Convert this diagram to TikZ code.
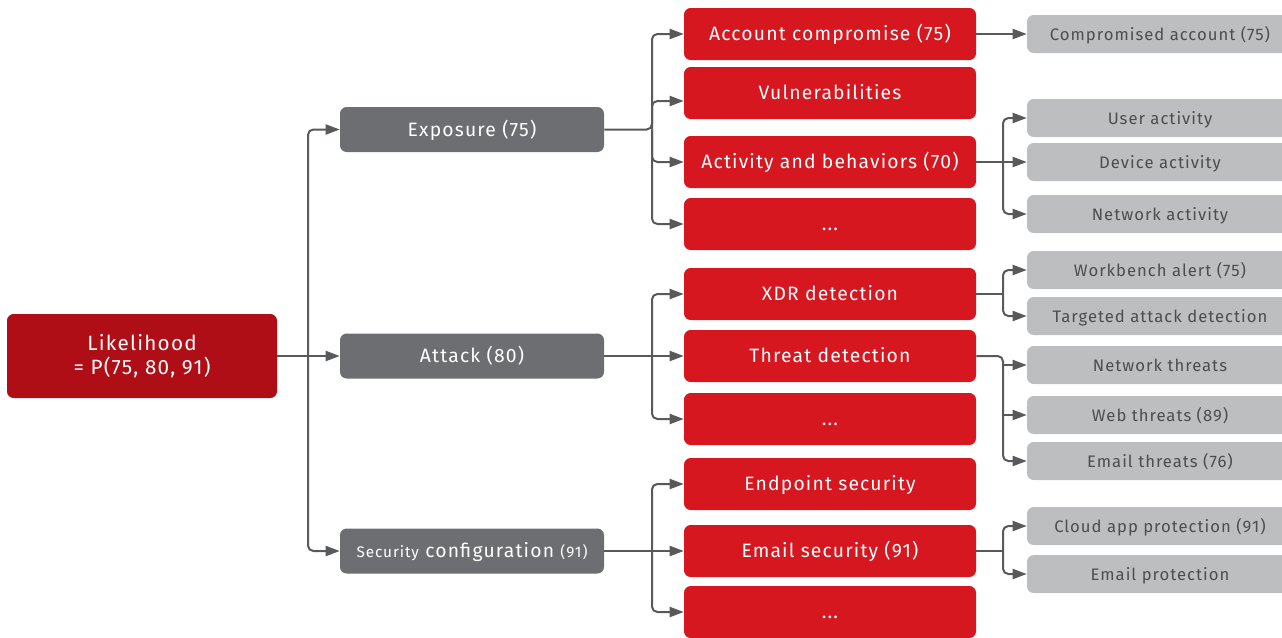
\documentclass[tikz,border=0pt]{standalone}
\usepackage{fontspec}
\setmainfont{Fira Sans}[LetterSpace=6]
\usetikzlibrary{arrows.meta}
\definecolor{dred}{HTML}{B00E16}
\definecolor{bred}{HTML}{D7171F}
\definecolor{mgray}{HTML}{6D6E71}
\definecolor{lgray}{HTML}{BCBEC0}
\definecolor{tgray}{HTML}{4D4D4F}
\definecolor{lcol}{HTML}{58595B}
\tikzset{
  base/.style={rounded corners=5pt, inner sep=0pt, align=center},
  likbox/.style={base, fill=dred, text=white, minimum width=202.5pt, minimum height=63pt, font=\fontsize{15.5}{18.5}\selectfont},
  midbox/.style={base, text height=10.4pt, text depth=0pt, fill=mgray, text=white, minimum width=198pt, minimum height=33.75pt, font=\fontsize{14.5}{17}\selectfont},
  redbox/.style={base, text height=10.4pt, text depth=0pt, fill=bred, text=white, minimum width=219pt, minimum height=39pt, font=\fontsize{14.5}{17}\selectfont},
  gbox/.style={base, text height=9pt, text depth=0pt, fill=lgray, text=tgray, minimum width=199.5pt, minimum height=28.5pt, font=\fontsize{12.5}{15}\selectfont},
  conn/.style={draw=lcol, line width=1.5pt, rounded corners=4pt},
  arr/.style={conn, -{Triangle[length=10.5pt,width=7.5pt]}},
}
\begin{document}
\begin{tikzpicture}[x=0.75pt,y=-0.75pt]
\useasboundingbox (0,0) rectangle (1282,637);
% level 0
\node[likbox] (lik) at (142,356) {Likelihood\\= P(75, 80, 91)};
% level 1
\node[midbox] (exp) at (472,129.5) {Exposure (75)};
\node[midbox] (att) at (472,356) {Attack (80)};
\node[midbox] (sec) at (472,551) {{\fontsize{11.5}{13}\selectfont Security} configuration {\fontsize{11.5}{13}\selectfont (91)}};
% level 2
\node[redbox] (acc) at (830,34) {Account compromise (75)};
\node[redbox] (vul) at (830,93) {Vulnerabilities};
\node[redbox] (act) at (830,162) {Activity and behaviors (70)};
\node[redbox] (dA) at (830,224) {...};
\node[redbox] (xdr) at (830,294) {XDR detection};
\node[redbox] (thr) at (830,356) {Threat detection};
\node[redbox] (dB) at (830,419) {...};
\node[redbox] (eps) at (830,484) {Endpoint security};
\node[redbox] (ems) at (830,551) {Email security (91)};
\node[redbox] (dC) at (830,612) {...};
% level 3
\node[gbox] (cac) at (1160,34) {Compromised account (75)};
\node[gbox] (usr) at (1160,118) {User activity};
\node[gbox] (dev) at (1160,162) {Device activity};
\node[gbox] (net) at (1160,214) {Network activity};
\node[gbox] (wb) at (1160,270) {Workbench alert (75)};
\node[gbox] (tad) at (1160,316) {Targeted attack detection};
\node[gbox] (nth) at (1160,365) {Network threats};
\node[gbox] (wth) at (1160,415) {Web threats (89)};
\node[gbox] (eth) at (1160,461) {Email threats (76)};
\node[gbox] (cap) at (1160,526) {Cloud app protection (91)};
\node[gbox] (epr) at (1160,574) {Email protection};
% bus coordinates
\coordinate (b0) at (308,356);
\coordinate (b1) at (652,129.5);
\coordinate (b2) at (652,356);
\coordinate (b3) at (652,551);
\coordinate (b4) at (1003,162);
\coordinate (b5) at (1003,294);
\coordinate (b6) at (1003,400);
\coordinate (b7) at (1003,551);
% level 0 -> 1
\draw[arr] (lik.east) -- (att.west);
\draw[arr] (b0) |- (exp.west);
\draw[arr] (b0) |- (sec.west);
% exposure
\draw[arr] (exp.east) -- (b1) |- (acc.west);
\draw[arr] (b1) |- ([yshift=-6pt]vul.west);
\draw[arr] (b1) |- (act.west);
\draw[arr] (b1) |- (dA.west);
% attack
\draw[arr] (att.east) -- (thr.west);
\draw[arr] (b2) |- (xdr.west);
\draw[arr] (b2) |- (dB.west);
% security configuration
\draw[arr] (sec.east) -- (ems.west);
\draw[arr] (b3) |- (eps.west);
\draw[arr] (b3) |- (dC.west);
% level 2 -> 3
\draw[arr] (acc.east) -- (cac.west);
\draw[arr] (act.east) -- (dev.west);
\draw[arr] (b4) |- (usr.west);
\draw[arr] (b4) |- (net.west);
\draw[conn] (xdr.east) -- (b5);
\draw[arr] (b5) |- (wb.west);
\draw[arr] (b5) |- (tad.west);
\draw[arr] (thr.east) -| (b6) |- (eth.west);
\draw[arr] (b6 |- nth.west) -- (nth.west);
\draw[arr] (b6 |- wth.west) -- (wth.west);
\draw[conn] (ems.east) -- (b7);
\draw[arr] (b7) |- (cap.west);
\draw[arr] (b7) |- (epr.west);
\end{tikzpicture}
\end{document}
